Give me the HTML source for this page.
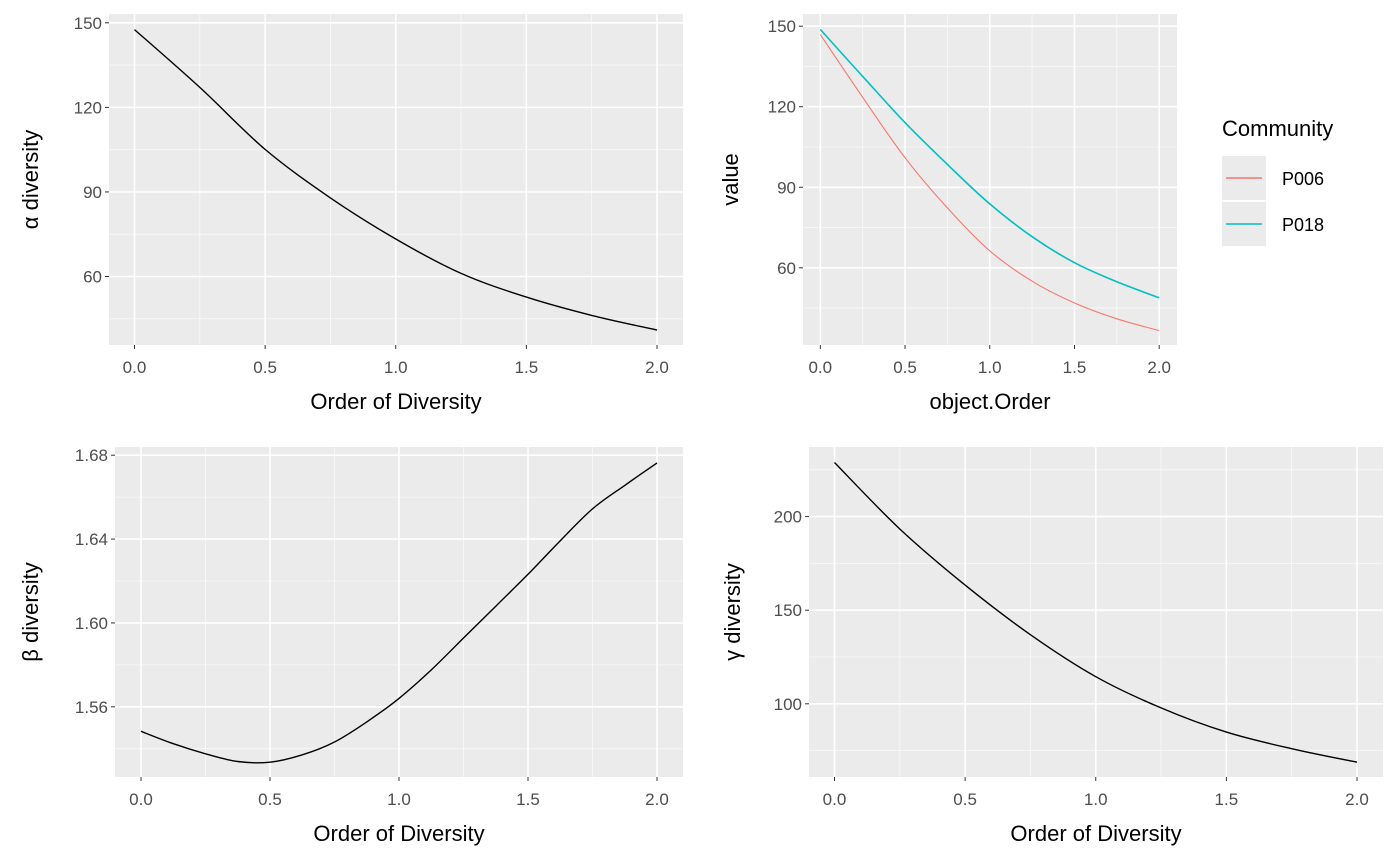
<!DOCTYPE html>
<html><head><meta charset="utf-8"><style>
body{margin:0;background:#fff;}
svg{display:block;font-family:"Liberation Sans",sans-serif;}
</style></head><body>
<svg id="fig" width="1400" height="865"></svg>
<script>
const orders = [0,0.25,0.5,0.75,1.0,1.25,1.5,1.75,2.0];
const alphaValues = [147.6,127.1,105.1,87.9,73.3,61.1,52.7,46.2,41.0];
const p006Values = [146.9,123.5,101.0,82.3,66.3,55.0,46.9,41.0,36.6];
const p018Values = [148.8,131.3,114.1,98.5,83.8,71.6,61.9,54.8,48.8];
const betaOrders = [0,0.125,0.25,0.375,0.5,0.625,0.75,0.875,1.0,1.125,1.25,1.375,1.5,1.625,1.75,1.875,2.0];
const betaValues = [1.5483,1.5424,1.5376,1.5339,1.5336,1.5371,1.5432,1.5528,1.564,1.5776,1.5928,1.608,1.6232,1.6392,1.6544,1.6656,1.6763];
const gammaValues = [228.9,193.4,163.4,136.9,114.5,97.8,84.9,76.0,68.8];
const xTicks = [0,0.5,1.0,1.5,2.0];
const xTickLabels = ["0.0","0.5","1.0","1.5","2.0"];
const alphaTicks = [60,90,120,150];
const valueTicks = [60,90,120,150];
const betaTicks = [1.56,1.60,1.64,1.68];
const betaTickLabels = ["1.56","1.60","1.64","1.68"];
const gammaTicks = [100,150,200];

const NS="http://www.w3.org/2000/svg";
const svg=document.getElementById('fig');
function mk(tag,attrs,parent){const e=document.createElementNS(NS,tag);for(const k in attrs)e.setAttribute(k,attrs[k]);(parent||svg).appendChild(e);return e;}

function smoothPath(pts){
  let d='M'+pts[0][0].toFixed(1)+','+pts[0][1].toFixed(1);
  for(let i=0;i<pts.length-1;i++){
    const p0=pts[i-1]||pts[i],p1=pts[i],p2=pts[i+1],p3=pts[i+2]||p2;
    const c1=[p1[0]+(p2[0]-p0[0])/6,p1[1]+(p2[1]-p0[1])/6];
    const c2=[p2[0]-(p3[0]-p1[0])/6,p2[1]-(p3[1]-p1[1])/6];
    d+=` C${c1[0].toFixed(1)},${c1[1].toFixed(1)} ${c2[0].toFixed(1)},${c2[1].toFixed(1)} ${p2[0].toFixed(1)},${p2[1].toFixed(1)}`;
  }
  return d;
}

function panel(cfg){
  const g=mk('g',{});
  
  
  const sx=v=>cfg.x0+(v-0)*(cfg.x2-cfg.x0)/2;
  const sy=v=>cfg.ya+(v-cfg.va)*(cfg.yb-cfg.ya)/(cfg.vb-cfg.va);
  const bg=mk('rect',{x:cfg.L,y:cfg.T,width:cfg.R-cfg.L,height:cfg.B-cfg.T,fill:'#ebebeb'},g);
  
  
  for(let i=0;i<xTicks.length-1;i++){const m=sx((xTicks[i]+xTicks[i+1])/2);mk('line',{x1:m,x2:m,y1:cfg.T,y2:cfg.B,stroke:'#fafafa','stroke-width':0.8},g);}
  const yt=cfg.yticks;
  const step=yt[1]-yt[0];
  const mins=[];for(let i=0;i<yt.length;i++){mins.push(yt[i]-step/2);}mins.push(yt[yt.length-1]+step/2);
  mins.forEach(v=>{const y=sy(v);if(y>cfg.T&&y<cfg.B)mk('line',{x1:cfg.L,x2:cfg.R,y1:y,y2:y,stroke:'#fafafa','stroke-width':0.8},g);});
  xTicks.forEach((v,i)=>{const x=sx(v);mk('line',{x1:x,x2:x,y1:cfg.T,y2:cfg.B,stroke:'#fff','stroke-width':1.6},g);
    mk('line',{x1:x,x2:x,y1:cfg.B,y2:cfg.B+4,stroke:'#333','stroke-width':1},g);
    const t=mk('text',{x:x,y:cfg.B+28,'text-anchor':'middle','font-size':17,fill:'#4d4d4d'},g);t.textContent=xTickLabels[i];
    
    });
  yt.forEach((v,i)=>{const y=sy(v);mk('line',{x1:cfg.L,x2:cfg.R,y1:y,y2:y,stroke:'#fff','stroke-width':1.6},g);
    mk('line',{x1:cfg.L-4,x2:cfg.L,y1:y,y2:y,stroke:'#333','stroke-width':1},g);
    const t=mk('text',{x:cfg.L-7,y:y+6,'text-anchor':'end','font-size':17,fill:'#4d4d4d'},g);t.textContent=cfg.ylabels?cfg.ylabels[i]:String(v);
    
    });
  cfg.series.forEach(s=>{
    const pts=s.xs.map((q,i)=>[sx(q),sy(s.ys[i])]);
    const p=mk('path',{d:smoothPath(pts),fill:'none',stroke:s.color,'stroke-width':s.w||1.4},g);
    
    
  });
  const xt=mk('text',{x:(cfg.L+cfg.R)/2,y:cfg.B+64,'text-anchor':'middle','font-size':22,fill:'#000'},g);xt.textContent=cfg.xtitle;
  
  
  const cy=(cfg.T+cfg.B)/2;
  const ytt=mk('text',{x:cfg.ytx,y:cy,'text-anchor':'middle','font-size':22,fill:'#000',transform:`rotate(-90 ${cfg.ytx} ${cy})`},g);ytt.textContent=cfg.ytitle;
  
  
}

panel({name:'alpha-panel',L:109,R:683,T:14,B:345,x0:134.5,x2:657,ya:22.8,va:150,yb:276.5,vb:60,yticks:alphaTicks,
  series:[{name:'alpha-line',xs:orders,ys:alphaValues,color:'#000'}],xtitle:'Order of Diversity',ytitle:'α diversity',ytx:38});
panel({name:'community-panel',L:803,R:1177,T:14,B:345,x0:820.3,x2:1159.2,ya:26.2,va:150,yb:267.8,vb:60,yticks:valueTicks,
  series:[{name:'line-p006',xs:orders,ys:p006Values,color:'#f8766d',w:1.1},{name:'line-p018',xs:orders,ys:p018Values,color:'#00bfc4',w:1.6}],
  xtitle:'object.Order',ytitle:'value',ytx:738});
panel({name:'beta-panel',L:115,R:683,T:447,B:777,x0:141,x2:657,ya:455.2,va:1.68,yb:706.8,vb:1.56,yticks:betaTicks,ylabels:betaTickLabels,
  series:[{name:'beta-line',xs:betaOrders,ys:betaValues,color:'#000'}],xtitle:'Order of Diversity',ytitle:'β diversity',ytx:38});
panel({name:'gamma-panel',L:809,R:1383,T:447,B:777,x0:834.5,x2:1357,ya:516.6,va:200,yb:703.8,vb:100,yticks:gammaTicks,
  series:[{name:'gamma-line',xs:orders,ys:gammaValues,color:'#000'}],xtitle:'Order of Diversity',ytitle:'γ diversity',ytx:740});

const lg=mk('g',{});


const lt=mk('text',{x:1222,y:136,'font-size':22,fill:'#000'},lg);lt.textContent='Community';


[['P006','#f8766d',156],['P018','#00bfc4',202]].forEach(([lab,col,y])=>{
  const e=mk('g',{},lg);
  
  
  mk('rect',{x:1222,y:y,width:44,height:44,fill:'#ebebeb'},e);
  mk('line',{x1:1226,x2:1262,y1:y+22,y2:y+22,stroke:col,'stroke-width':1.6},e);
  const t=mk('text',{x:1282,y:y+29,'font-size':18,fill:'#000'},e);t.textContent=lab;
});
</script>
</body></html>
